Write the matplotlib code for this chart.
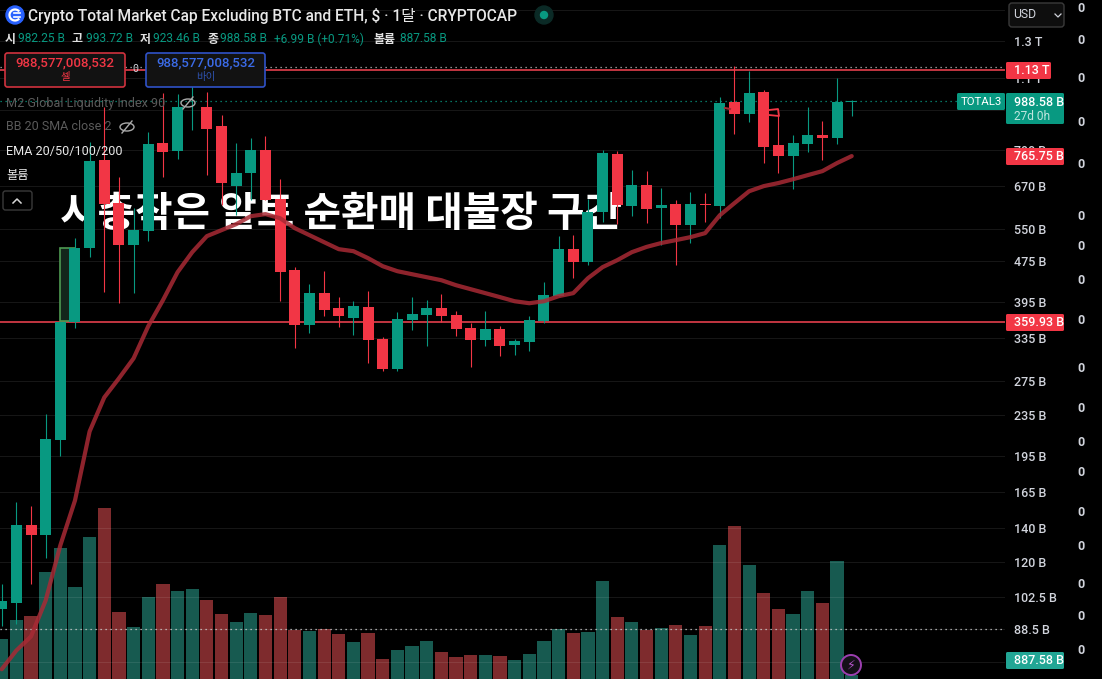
import matplotlib
matplotlib.use("Agg")
import numpy as np
import matplotlib.pyplot as plt
from matplotlib.patches import Rectangle, FancyBboxPatch, Circle, Ellipse, Arc

plt.rcParams['font.family'] = ['Roboto', 'Noto Sans CJK KR', 'DejaVu Sans']

# monthly candles, in billions
opens = [96.6, 99.7, 141.9, 135.5, 209.4, 359.3, 504, 754, 619.4, 511, 544.9, 815, 785.8, 1065, 961, 881, 669.5, 710.5, 789, 631,
         456, 354.3, 410, 383, 367, 384.7, 332.3, 289.7, 362.5, 371, 383, 371, 349.5, 330.8, 348, 323.3, 327.8, 360.9, 404.7, 501.8,
         472.8, 594.3, 775, 611, 672.5, 605.3, 616.5, 559.9, 616.5, 611, 983.5, 930.5, 1029, 808, 768, 811, 845, 834, 982.25]
highs = [108.3, 157.6, 155.4, 235.8, 359.3, 527.7, 818.9, 961, 697.5, 605, 857, 1025, 1020, 1191, 1029, 926, 815, 834, 842, 691,
         462, 427.5, 453.7, 403, 395.5, 414, 335.3, 376, 403, 397, 408.3, 377.8, 357.6, 377.8, 352.8, 332.3, 369, 431.4, 532.6, 535,
         631, 789, 785.8, 720.3, 717, 663, 628, 651, 648, 1006, 1160, 1133, 1039, 951, 845, 961, 901, 1097, 993.72]
lows = [89.4, 90.6, 108.3, 122, 194.5, 349.5, 484, 412, 392, 410, 520.5, 697.5, 757.5, 865, 704, 614, 586, 628, 628, 395.5,
        320, 341.5, 369, 351, 338.5, 297.8, 287, 287, 346.3, 323, 359.3, 336.8, 292.5, 323, 307.4, 308.9, 314.6, 357.6, 404.7, 439.4,
        466.4, 567.8, 562.6, 583.5, 565.2, 511, 466.4, 516, 567.8, 578, 849, 897, 744, 710.5, 660, 782, 754, 811, 923.46]
closes = [100.2, 141.9, 135.5, 210.3, 359.3, 504, 750.6, 616.5, 511, 547.4, 811, 782, 961, 1138, 869, 679, 710.5, 789, 628, 451.6,
          354.3, 410, 379.5, 369, 386.5, 330.8, 289.7, 364, 372.6, 383, 369, 348, 330.8, 348, 321.9, 329.3, 362.5, 406.5, 501.8, 472.8,
          594.3, 778.6, 614, 672.5, 602.5, 614, 559.9, 616.5, 614, 979, 930.5, 1025, 799, 768, 815, 845, 834, 983.5, 988.58]
ema = [73.5, 80.1, 85.4, 100.7, 129.5, 159, 218.1, 254.8, 278, 304.6, 352.8, 397.3, 451.6, 495, 532.6, 547.4, 562.6, 583.5, 589, 578,
       552.4, 535, 518.1, 501.8, 497.2, 481.6, 464.2, 453.7, 447.5, 441.4, 435.4, 425.6, 417.9, 410.4, 403, 395.5, 391.9, 395.5, 404.7, 410.4,
       439.4, 462.2, 477.2, 495, 507, 516.1, 523, 530.2, 540, 586, 619.4, 654, 669.5, 679, 691, 704, 717, 744, 768]
# volume, in trillions
volumes = [8.0, 11.8, 12.6, 21.4, 26.2, 18.4, 28.4, 34.2, 13.4, 10.4, 16.4, 19.0, 17.6, 18.0, 15.8, 13.0, 11.4, 13.2, 12.8, 16.4,
           9.8, 9.6, 10.0, 9.0, 7.4, 9.2, 4.0, 5.8, 6.6, 7.6, 5.4, 4.4, 4.8, 4.8, 4.6, 3.8, 5.0, 7.6, 10.0, 9.2,
           9.4, 19.6, 12.4, 11.4, 9.8, 10.2, 10.8, 8.8, 10.6, 26.8, 30.6, 22.8, 17.2, 14.0, 13.0, 17.6, 15.2, 23.6, 0.89]

tick_values = [1500, 1300, 1100, 950, 790, 670, 550, 475, 395, 335, 275, 235, 195, 165, 140, 120, 102.5, 88.5, 76]
# the 1.5 T, 950 B and 76 B rows sit fully under the tags, only their grid lines show
tick_labels = ["", "1.3 T", "1.1 T", "", "790 B", "670 B", "550 B", "475 B", "395 B", "335 B", "275 B", "235 B",
               "195 B", "165 B", "140 B", "120 B", "102.5 B", "88.5 B", ""]
hlines_red = [1138, 359.93]
zero_rows = [9, 41, 78, 122, 164, 217, 246, 281, 321, 368, 408, 443, 473, 512, 546, 585, 617, 651]

UP = "#089981"
DOWN = "#f23645"
UP_VOL = "#175a50"
DOWN_VOL = "#7e2b2d"
TEXT = "#d1d4dc"

x = np.arange(len(closes))
up = np.array(closes) >= np.array(opens)

fig = plt.figure(figsize=(11.02, 6.79), dpi=100, facecolor="black")
PLOT_W = 1005 / 1102
xlim = (-0.116, 68.46)

#### VOLUME ####
ax_vol = fig.add_axes([0, 0, PLOT_W, 1], zorder=1, facecolor="black")
ax_vol.bar(x, volumes, width=0.9, color=[UP_VOL if u else DOWN_VOL for u in up])
ax_vol.set_xlim(xlim)
ax_vol.set_ylim(0, 135.8)
ax_vol.axis("off")

#### PRICE ####
ax = fig.add_axes([0, 0, PLOT_W, 1], zorder=2)
ax.patch.set_alpha(0)
ax.set_yscale("log")
ax.set_xlim(xlim)
ax.set_ylim(70.3, 1568)
for s in ax.spines.values():
    s.set_visible(False)
ax.set_xticks([])
ax.yaxis.tick_right()
ax.yaxis.set_minor_locator(matplotlib.ticker.NullLocator())
ax.set_yticks(tick_values)
ax.set_yticklabels(tick_labels, color=TEXT, fontsize=9, fontweight="medium")
ax.yaxis.set_minor_formatter(matplotlib.ticker.NullFormatter())
ax.tick_params(axis="y", length=0, pad=6.5)
ax.grid(axis="y", color="white", alpha=0.09, lw=0.8, zorder=0)
ax.set_axisbelow(True)

ax.text(23.15, 590, "시총작은 알트 순환매 대불장 구간", color="white", fontsize=29.4, fontweight="bold",
        ha="center", va="center", zorder=3, family=['Noto Sans CJK KR', 'DejaVu Sans'])

for v in hlines_red:
    ax.axhline(v, color="#c23641", lw=1.4, zorder=3.5)
ax.axhline(988.58, xmax=958 / 1005, color=UP, lw=0.9, ls=(0, (1, 3)), zorder=3.5)
ax.axhline(1153, color="#b8b8b8", lw=0.9, ls=(0, (1, 3)), zorder=3.5)
ax.axhline(88.5, color="#d0d0d0", lw=0.9, ls=(0, (1, 3)), zorder=3.5)

ax.add_patch(Rectangle((3.97, 362), 1.0, 505 - 362, facecolor="#13261b", edgecolor="#4f9a52", lw=1.2, zorder=3.6))

colors = [UP if u else DOWN for u in up]
ax.vlines(x, lows, highs, colors=colors, lw=0.8, zorder=4)
bottoms = np.minimum(opens, closes)
heights = np.abs(np.array(closes) - np.array(opens))
ax.bar(x, heights, bottom=bottoms, width=0.75, color=colors, zorder=5)

ax.plot(x, ema, color="#a82a35", lw=3, alpha=0.85, solid_capstyle="round", zorder=6)

#### OVERLAY, screen pixels ####
ov = fig.add_axes([0, 0, 1, 1], zorder=3)
ov.patch.set_alpha(0)
ov.set_xlim(0, 1102)
ov.set_ylim(679, 0)
ov.axis("off")


def label(px, py, s, color=TEXT, size=9, **kw):
    kw.setdefault("va", "center")
    ov.text(px, py, s, color=color, fontsize=size, **kw)


def box(x0, y0, x1, y1, face, edge=None, r=2.5, lw=1.2):
    ov.add_patch(FancyBboxPatch((x0 + r, y0 + r), x1 - x0 - 2 * r, y1 - y0 - 2 * r, boxstyle="round,pad=%f" % r,
                                facecolor=face, edgecolor=edge if edge else face, lw=lw, zorder=2))


def eye(cx, cy):
    ov.add_patch(Ellipse((cx, cy), 14, 8, fill=False, edgecolor="#aaaaaa", lw=1, zorder=3))
    ov.plot([cx - 5, cx + 5], [cy + 6, cy - 6], color="#aaaaaa", lw=1, zorder=3)


# header
ov.add_patch(Circle((15, 15), 9, color="#2962ff", zorder=3))
ov.add_patch(Arc((15, 15), 11, 11, theta1=40, theta2=320, color="white", lw=1.6, zorder=4))
ov.plot([14, 20], [13, 13], color="white", lw=1.2, zorder=4)
ov.plot([14, 20], [17, 17], color="white", lw=1.2, zorder=4)
label(28, 16, "Crypto Total Market Cap Excluding BTC and ETH, $ · 1달 · CRYPTOCAP", "#e8e8e8", 11.2, fontweight="medium")
ov.add_patch(Circle((544, 15), 9, color="#0b2a26", zorder=3))
ov.add_patch(Circle((544, 15), 3.5, color=UP, zorder=4))

ohlc_names = [(5, "시"), (72, "고"), (140, "저"), (207, "종"), (374, "볼륨")]
ohlc_values = [(18, "982.25 B"), (86, "993.72 B"), (153, "923.46 B"), (220, "988.58 B"),
               (274, "+6.99 B (+0.71%)"), (400, "887.58 B")]
for px, s in ohlc_names:
    label(px, 39, s, "#e0e0e0", 8.6, fontweight="bold")
for px, s in ohlc_values:
    label(px, 39, s, UP, 8.6)

# sell / buy boxes
box(5, 53, 125, 87, "#121212", "#d0323e")
label(65, 63, "988,577,008,532", "#f23645", 9.5, ha="center", fontweight="medium")
label(65, 77, "셀", "#f23645", 7.5, ha="center")
label(135, 69, "0", TEXT, 7.5, ha="center")
box(146, 53, 265, 87, "#121212", "#2f52c8")
label(205.5, 63, "988,577,008,532", "#3b6be8", 9.5, ha="center", fontweight="medium")
label(205.5, 77, "바이", "#2f52b0", 7.5, ha="center")

# legend rows
label(6, 104, "M2 Global Liquidity Index 90", "#5a5a5a", 9.1)
eye(188, 103)
label(6, 127, "BB 20 SMA close 2", "#5a5a5a", 9)
eye(127, 127)
label(6, 151, "EMA 20/50/100/200", "#e8e8e8", 9.1)
label(6, 175, "볼륨", "#e8e8e8", 8.8)
box(3, 191, 32, 210, "black", "#3a3a3a", lw=1)
ov.plot([13, 17, 21], [203, 199, 203], color="#d8d8d8", lw=1.1, zorder=3)

# small stubs near the last candles
ov.plot([769, 778, 779, 769], [110, 109, 116, 115], color=DOWN, lw=1.3, zorder=1)
ov.plot([725, 730], [108, 109], color="#a82a35", lw=1.5, zorder=1)

# scale tags
box(1009, 3, 1064, 27, "#0e0e0e", "#3a3a3a", r=3, lw=1)
label(1013, 15, "USD", TEXT, 8.8)
ov.plot([1055, 1058, 1061], [14, 17, 14], color=TEXT, lw=0.9, zorder=3)

tags = [(1006, 1051, 62, 79, DOWN, "1.13 T"), (1006, 1064, 148, 165, DOWN, "765.75 B"),
        (1006, 1064, 314, 331, DOWN, "359.93 B"), (1006, 1064, 652, 669, "#22a695", "887.58 B")]
for x0, x1, y0, y1, col, s in tags:
    box(x0, y0, x1, y1, col, r=1.5, lw=0)
    label(1014, (y0 + y1) / 2, s, "white", 9, zorder=4, fontweight="medium")
box(1006, 93, 1064, 124, UP, r=1.5, lw=0)
label(1014, 102, "988.58 B", "white", 9, zorder=4, fontweight="medium")
label(1014, 116, "27d 0h", "#bfe6df", 8.6, zorder=4)
box(957, 93, 1005, 110, UP, r=1.5, lw=0)
label(981, 102, "TOTAL3", "white", 8.2, ha="center", zorder=4)

for py in zero_rows:
    label(1081, py, "0", TEXT, 9, ha="center", fontweight="bold")

# lightning badge
ov.add_patch(Circle((851, 665), 10, facecolor="#141018", edgecolor="#9c3fb0", lw=1.4, zorder=3))
ov.text(851, 665, "\u26a1", color="#b455c9", fontsize=9, ha="center", va="center", zorder=4, family="DejaVu Sans")

fig.savefig("out.png", dpi=100, facecolor="black")
